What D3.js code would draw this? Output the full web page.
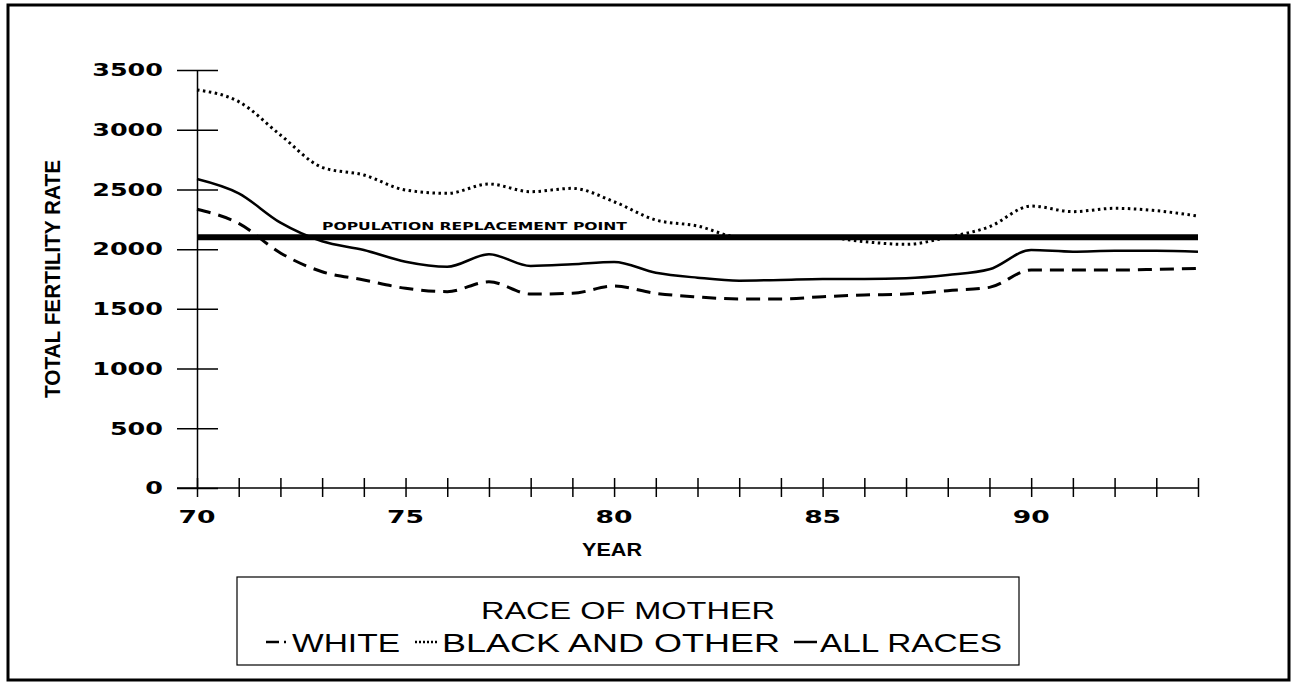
<!DOCTYPE html>
<html>
<head>
<meta charset="utf-8">
<script src="https://d3js.org/d3.v7.min.js"></script>
<style>
    body { margin: 0; background: #fff; }
    svg { display: block; }
    .axis path, .axis line { stroke: #000; stroke-width: 1.5; fill: none; }
    .axis text { font-family: "DejaVu Sans", sans-serif; font-weight: bold; font-size: 18px; fill: #000; }
</style>
</head>
<body>
<script>
    // values (per 1,000 women)
    var years = [70, 71, 72, 73, 74, 75, 76, 77, 78, 79, 80, 81, 82, 83, 84, 85, 86, 87, 88, 89, 90, 91, 92, 93, 94];
    var white = [2334, 2216, 1968, 1811, 1742, 1672, 1644, 1727, 1624, 1630, 1691, 1630, 1600, 1583, 1583, 1602, 1616, 1624, 1652, 1680, 1825, 1825, 1825, 1831, 1839];
    var blackOther = [3333, 3235, 2956, 2685, 2621, 2495, 2467, 2545, 2481, 2509, 2397, 2244, 2194, 2100, 2095, 2100, 2062, 2040, 2100, 2188, 2361, 2314, 2342, 2322, 2277];
    var allRaces = [2587, 2467, 2222, 2066, 1993, 1895, 1853, 1957, 1859, 1873, 1892, 1803, 1761, 1736, 1742, 1750, 1750, 1756, 1783, 1831, 1993, 1979, 1987, 1987, 1979];
    var replacement = 2100;
    var yTicks = [0, 500, 1000, 1500, 2000, 2500, 3000, 3500];
    var xLabels = [70, 75, 80, 85, 90];

    var svg = d3.select("body").append("svg")
        .attr("width", 1294)
        .attr("height", 682);

    // outer frame
    svg.append("rect")
        .attr("x", 8).attr("y", 5)
        .attr("width", 1281).attr("height", 675)
        .attr("fill", "none").attr("stroke", "#000").attr("stroke-width", 3);

    var x = d3.scaleLinear().domain([70, 94]).range([197, 1198]);
    var y = d3.scaleLinear().domain([0, 3500]).range([488, 70]);

    // y axis, ticks crossing the line
    var yAxis = svg.append("g")
        .attr("class", "axis")
        .attr("transform", "translate(197,0)")
        .call(d3.axisLeft(y).tickValues(yTicks).tickFormat(d3.format("d"))
            .tickSize(20).tickSizeOuter(0).tickPadding(14));
    yAxis.selectAll(".tick line").attr("x2", 21).attr("x1", -20);
    yAxis.selectAll(".tick text")
        .attr("textLength", function (d) { return String(d).length * 17.7; })
        .attr("lengthAdjust", "spacingAndGlyphs");

    // x axis
    var xAxis = svg.append("g")
        .attr("class", "axis")
        .attr("transform", "translate(0,488)")
        .call(d3.axisBottom(x).tickValues(years).tickSize(10).tickSizeOuter(0).tickFormat(""));
    xAxis.select(".domain").attr("d", "M177,0H1198");
    xAxis.selectAll(".tick line").attr("y1", -10).attr("y2", 9);

    svg.selectAll(".xlab")
        .data(xLabels)
        .enter().append("text")
        .attr("class", "xlab")
        .attr("x", function (d) { return x(d); })
        .attr("y", 523)
        .attr("text-anchor", "middle")
        .attr("font-family", "DejaVu Sans, sans-serif")
        .attr("font-weight", "bold")
        .attr("font-size", 18)
        .attr("textLength", 37)
        .attr("lengthAdjust", "spacingAndGlyphs")
        .text(function (d) { return d; });

    svg.append("text")
        .attr("x", 612).attr("y", 556)
        .attr("text-anchor", "middle")
        .attr("font-family", "Liberation Sans, Arial, sans-serif")
        .attr("font-weight", "bold")
        .attr("font-size", 19)
        .attr("textLength", 60)
        .attr("lengthAdjust", "spacingAndGlyphs")
        .text("YEAR");

    svg.append("text")
        .attr("transform", "translate(60,279) rotate(-90)")
        .attr("text-anchor", "middle")
        .attr("font-family", "Liberation Sans, Arial, sans-serif")
        .attr("font-weight", "bold")
        .attr("font-size", 22)
        .attr("textLength", 238)
        .attr("lengthAdjust", "spacingAndGlyphs")
        .text("TOTAL FERTILITY RATE");

    // replacement level
    svg.append("line")
        .attr("x1", x(70)).attr("x2", x(94))
        .attr("y1", y(replacement)).attr("y2", y(replacement))
        .attr("stroke", "#000").attr("stroke-width", 6);
    svg.append("text")
        .attr("x", 322).attr("y", 230)
        .attr("font-family", "DejaVu Sans, sans-serif")
        .attr("font-weight", "bold")
        .attr("font-size", 11)
        .attr("textLength", 305)
        .attr("lengthAdjust", "spacingAndGlyphs")
        .text("POPULATION  REPLACEMENT  POINT");

    var line = d3.line()
        .x(function (d, i) { return x(years[i]); })
        .y(function (d) { return y(d); })
        .curve(d3.curveMonotoneX);

    var series = [
        { values: white, width: 3, dash: "14,8" },
        { values: blackOther, width: 3, dash: "2.5,3.5" },
        { values: allRaces, width: 2.5, dash: null }
    ];
    series.forEach(function (s) {
        svg.append("path")
            .attr("d", line(s.values))
            .attr("fill", "none")
            .attr("stroke", "#000")
            .attr("stroke-width", s.width)
            .attr("stroke-dasharray", s.dash);
    });

    // legend
    var lg = svg.append("g");
    lg.append("rect")
        .attr("x", 237).attr("y", 577)
        .attr("width", 782).attr("height", 88)
        .attr("fill", "none").attr("stroke", "#000").attr("stroke-width", 1.2);
    lg.append("text")
        .attr("x", 628).attr("y", 619)
        .attr("text-anchor", "middle")
        .attr("font-family", "Liberation Sans, Arial, sans-serif")
        .attr("font-size", 24)
        .attr("textLength", 294)
        .attr("lengthAdjust", "spacingAndGlyphs")
        .text("RACE OF MOTHER");

    var legendItems = [
        { label: "WHITE", x1: 266, x2: 288, tx: 292, tl: 108, dash: "13,5,2,20" },
        { label: "BLACK AND OTHER", x1: 415, x2: 438, tx: 442, tl: 338, dash: "2,2" },
        { label: "ALL RACES", x1: 794, x2: 817, tx: 820, tl: 182, dash: null }
    ];
    legendItems.forEach(function (d) {
        lg.append("line")
            .attr("x1", d.x1).attr("x2", d.x2)
            .attr("y1", 642).attr("y2", 642)
            .attr("stroke", "#000").attr("stroke-width", 2.5)
            .attr("stroke-dasharray", d.dash);
        lg.append("text")
            .attr("x", d.tx).attr("y", 652)
            .attr("font-family", "Liberation Sans, Arial, sans-serif")
            .attr("font-size", 25)
            .attr("textLength", d.tl)
            .attr("lengthAdjust", "spacingAndGlyphs")
            .text(d.label);
    });
</script>
</body>
</html>
